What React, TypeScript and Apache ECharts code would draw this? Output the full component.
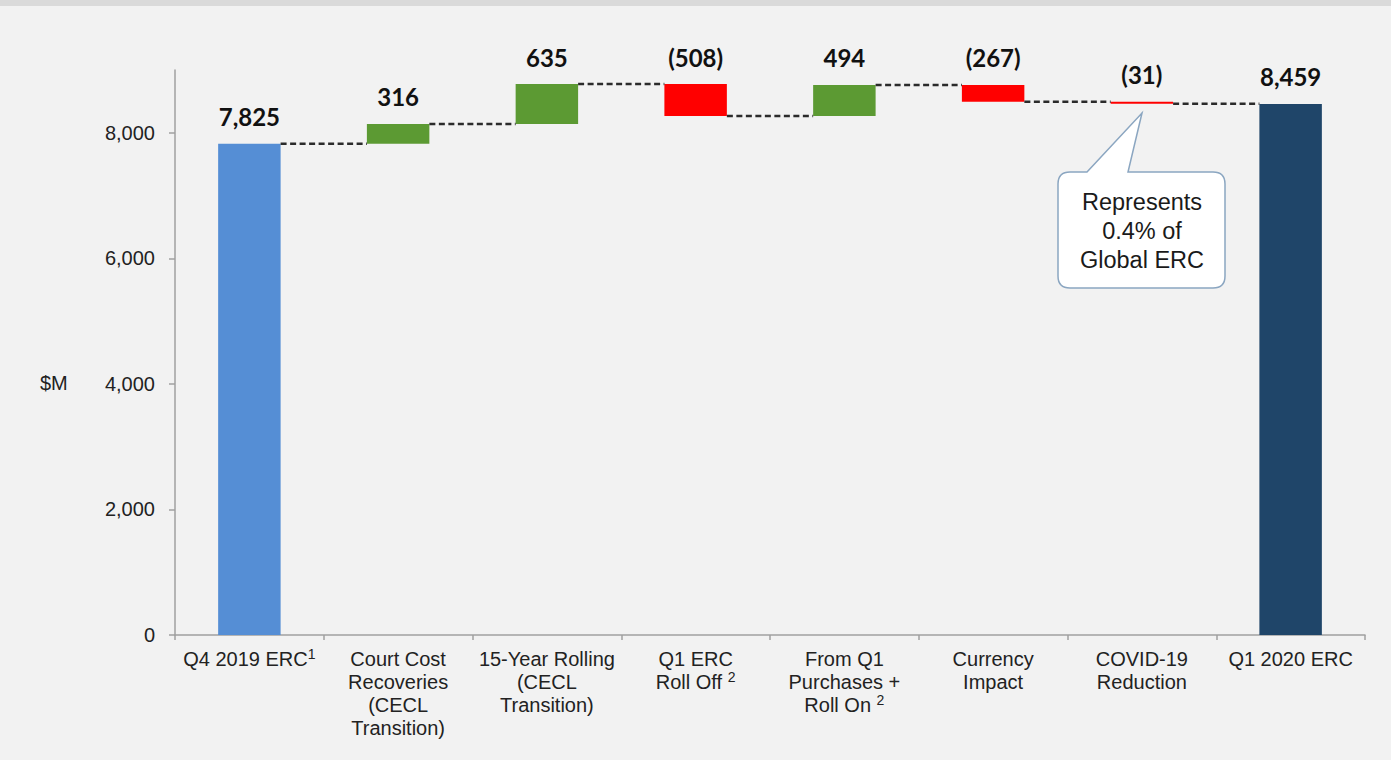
import React, { useEffect, useRef } from "react";
import * as echarts from "echarts";

const categories = [
  "Q4 2019 ERC",
  "Court Cost\nRecoveries\n(CECL\nTransition)",
  "15-Year Rolling\n(CECL\nTransition)",
  "Q1 ERC\nRoll Off",
  "From Q1\nPurchases +\nRoll On",
  "Currency\nImpact",
  "COVID-19\nReduction",
  "Q1 2020 ERC",
];
const footnotes = ["1", "", "", "2", "2", "", "", ""];
const startTotal = 7825;
const deltas = [316, 635, -508, 494, -267, -31];
const endTotal = 8459;
const yTicks = [0, 2000, 4000, 6000, 8000];
const calloutLines = ["Represents", "0.4% of", "Global ERC"];

const COLORS = {
  start: "#558ed5",
  up: "#5c9a33",
  down: "#ff0000",
  end: "#1f4569",
};

// callout bubble outline (annotation, pixel space)
const L = 1058, R = 1225, T = 172, B = 288, r = 12;
const calloutD =
  `M ${L + r} ${T} L 1087 ${T} L 1142 113 L 1128 ${T} L ${R - r} ${T} ` +
  `Q ${R} ${T} ${R} ${T + r} L ${R} ${B - r} Q ${R} ${B} ${R - r} ${B} ` +
  `L ${L + r} ${B} Q ${L} ${B} ${L} ${B - r} L ${L} ${T + r} Q ${L} ${T} ${L + r} ${T} Z`;
echarts.graphic.registerShape("callout", echarts.graphic.extendPath(calloutD, {}));

const fmt = (n: number) => n.toLocaleString("en-US");

export default function App() {
  const ref = useRef<HTMLDivElement>(null);

  useEffect(() => {
    document.body.style.margin = "0";
    if (!ref.current) return;
    const chart = echarts.init(ref.current, undefined, { renderer: "svg" });

    const baseData: number[] = [0];
    const visData: any[] = [{ value: startTotal, itemStyle: { color: COLORS.start } }];
    const labels: string[] = [fmt(startTotal)];
    const levels: number[] = [startTotal];
    let running = startTotal;
    deltas.forEach((d) => {
      const prev = running;
      running += d;
      baseData.push(Math.min(prev, running));
      visData.push({ value: Math.abs(d), itemStyle: { color: d >= 0 ? COLORS.up : COLORS.down } });
      labels.push(d >= 0 ? fmt(d) : `(${fmt(-d)})`);
      levels.push(running);
    });
    baseData.push(0);
    visData.push({ value: endTotal, itemStyle: { color: COLORS.end } });
    labels.push(fmt(endTotal));

    const connectorData = levels.map((v, i) => [i, v]);
    const BAR_FRAC = 0.42;

    const font = "'Liberation Sans', Arial, sans-serif";

    chart.setOption({
      animation: false,
      backgroundColor: "#f2f2f2",
      grid: { left: 175, right: 26, top: 70, bottom: 125, containLabel: false, outerBoundsMode: "none" },
      xAxis: {
        type: "category",
        data: categories,
        axisLine: { show: true, lineStyle: { color: "#a0a0a0", width: 1.5 } },
        axisTick: { show: true, length: 5, lineStyle: { color: "#a0a0a0", width: 1.5 } },
        axisLabel: {
          interval: 0,
          margin: 12,
          fontFamily: font,
          fontSize: 20,
          lineHeight: 23,
          color: "#222",
          formatter: (v: string, i: number) => {
            const fn = footnotes[i];
            if (!fn) return v;
            return fn === "1" ? `${v}{sup|${fn}}` : `${v} {sup|${fn}}`;
          },
          rich: {
            sup: { fontSize: 14, lineHeight: 14, verticalAlign: "top", fontFamily: font, color: "#222" },
          },
        },
      },
      yAxis: {
        type: "value",
        min: 0,
        max: 9000,
        interval: 2000,
        splitLine: { show: false },
        axisLine: { show: true, lineStyle: { color: "#a0a0a0", width: 1.5 } },
        axisTick: { show: true, length: 6, customValues: yTicks, lineStyle: { color: "#a0a0a0", width: 1.5 } },
        axisLabel: {
          margin: 20,
          fontFamily: font,
          fontSize: 20,
          color: "#222",
          customValues: yTicks,
          formatter: (v: number) => fmt(v),
        },
      },
      graphic: [
        { type: "rect", left: 0, top: 0, shape: { width: 1391, height: 6 }, style: { fill: "#dadada" } },
        {
          type: "text",
          left: 40,
          top: 373,
          style: { text: "$M", font: `20px ${font}`, fill: "#222" },
        },
        {
          type: "callout",
          x: 0,
          y: 0,
          style: { fill: "#ffffff", stroke: "#8ba6c1", lineWidth: 1.5 },
          z: 10,
        },
        {
          type: "text",
          x: 1142,
          y: 231,
          z: 11,
          style: {
            text: calloutLines.join("\n"),
            font: `23.5px ${font}`,
            lineHeight: 29,
            fill: "#1a1a1a",
            align: "center",
            verticalAlign: "middle",
          },
        },
      ],
      series: [
        {
          type: "bar",
          stack: "w",
          barWidth: `${BAR_FRAC * 100}%`,
          data: baseData,
          itemStyle: { color: "transparent" },
          emphasis: { disabled: true },
          silent: true,
        },
        {
          type: "bar",
          stack: "w",
          barWidth: `${BAR_FRAC * 100}%`,
          data: visData,
          label: {
            show: true,
            position: "top",
            distance: 15,
            fontFamily: "Lato, 'Open Sans', sans-serif",
            fontWeight: "bold",
            fontSize: 24,
            color: "#111",
            formatter: (p: any) => labels[p.dataIndex],
          },
        },
        {
          type: "custom",
          data: connectorData,
          z: 5,
          renderItem: (params: any, api: any) => {
            const i = api.value(0);
            const v = api.value(1);
            const p0 = api.coord([i, v]);
            const p1 = api.coord([i + 1, v]);
            const hw = (api.size([1, 0])[0] * BAR_FRAC) / 2;
            return {
              type: "line",
              shape: { x1: p0[0] + hw, y1: p0[1], x2: p1[0] - hw, y2: p1[1] },
              style: { stroke: "#2b2b2b", lineWidth: 2.5, lineDash: [6, 3.5] },
            };
          },
        },
      ],
    });

    return () => chart.dispose();
  }, []);

  return <div ref={ref} style={{ width: 1391, height: 760 }} />;
}
